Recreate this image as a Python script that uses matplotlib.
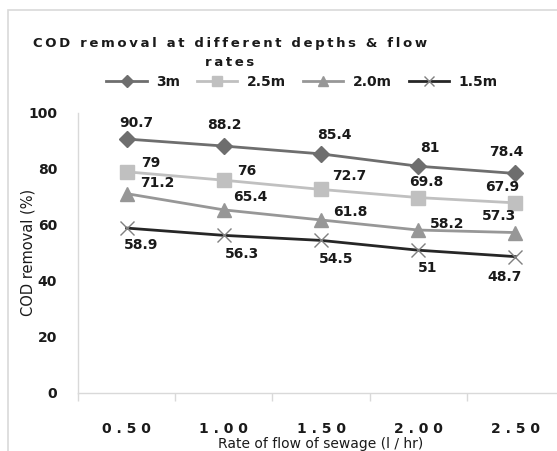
import matplotlib
matplotlib.use("Agg")
import matplotlib.pyplot as plt
from matplotlib.patches import Rectangle

categories = ["0.50", "1.00", "1.50", "2.00", "2.50"]
series_names = ["3m", "2.5m", "2.0m", "1.5m"]
v_3m = [90.7, 88.2, 85.4, 81, 78.4]
v_25m = [79, 76, 72.7, 69.8, 67.9]
v_20m = [71.2, 65.4, 61.8, 58.2, 57.3]
v_15m = [58.9, 56.3, 54.5, 51, 48.7]
yticks = [0, 20, 40, 60, 80, 100]
title_lines = ["COD removal at different depths & flow", "rates"]
xlabel = "Rate of flow of sewage (l / hr)"
ylabel = "COD removal (%)"

FONT = "DejaVu Sans"
TXT = "#1a1a1a"

def spaced(s, sep=" "):
    return sep.join(list(s))

fig = plt.figure(figsize=(5.57, 4.51), dpi=100)
W, H = 557, 451
ax = fig.add_axes([78 / W, (H - 393) / H, 486 / W, 280 / H])

x = list(range(len(categories)))
styles = [
    dict(color="#6e6e6e", marker="D", ms=8.5, mfc="#6e6e6e", mec="#6e6e6e"),
    dict(color="#c0c0c0", marker="s", ms=10, mfc="#c0c0c0", mec="#c0c0c0"),
    dict(color="#979797", marker="^", ms=10, mfc="#979797", mec="#979797"),
    dict(color="#262626", marker="x", ms=10, mfc="#808080", mec="#808080", mew=1.0),
]
data = [v_3m, v_25m, v_20m, v_15m]
offsets = [
    [(10, -16), (1, -21), (13, -19), (12, -18), (-9, -21)],
    [(24, -9), (23, -9), (28, -13), (8, -16), (-13, -16)],
    [(31, -11), (27, -13), (29, -8), (29, -6), (-16, -17)],
    [(14, 17), (18, 19), (15, 19), (9, 18), (-11, 20)],
]
lines = []
for name, vals, st, offs in zip(series_names, data, styles, offsets):
    ln, = ax.plot(x, vals, lw=2.0, label=name, **st)
    lines.append(ln)
    for xi, v, (dx, dy) in zip(x, vals, offs):
        ax.annotate(f"{v:g}", (xi, v), xytext=(dx, -dy), textcoords="offset pixels",
                    ha="center", va="center", fontsize=10, fontweight="bold",
                    family=FONT, color=TXT)

ax.set_xlim(-0.5, len(categories) - 0.5)
ax.set_ylim(0, 100)
ax.set_yticks(yticks)
ax.set_yticklabels([str(t) for t in yticks], fontsize=10, fontweight="bold", family=FONT, color=TXT)
ax.tick_params(axis="y", length=0, pad=15)
ax.set_xticks(x)
ax.set_xticklabels([spaced(c) for c in categories], fontsize=10, fontweight="bold", family=FONT, color=TXT)
ax.set_xticks([i - 0.5 for i in range(len(categories) + 1)], minor=True)
ax.tick_params(axis="x", which="major", length=0, pad=21)
ax.tick_params(axis="x", which="minor", length=6, color="#d9d9d9", width=1)
for s in ["top", "right"]:
    ax.spines[s].set_visible(False)
for s in ["left", "bottom"]:
    ax.spines[s].set_color("#d9d9d9")
    ax.spines[s].set_linewidth(1)

fig.text(28 / W, 1 - 252 / H, ylabel, rotation=90, ha="center", va="center",
         fontsize=10.5, family=FONT, color=TXT)
fig.text(321 / W, 1 - 444 / H, xlabel, ha="center", va="center",
         fontsize=10, family=FONT, color=TXT)
fig.text(230 / W, 1 - 44 / H, spaced(title_lines[0], "\u2009"), ha="center", va="center",
         fontsize=9.5, fontweight="bold", family=FONT, color=TXT)
fig.text(230 / W, 1 - 63 / H, spaced(title_lines[1], "\u2009"), ha="center", va="center",
         fontsize=9.5, fontweight="bold", family=FONT, color=TXT)

leg = fig.legend(handles=lines, labels=series_names, loc="center", ncol=4,
                 bbox_to_anchor=(302 / W, 1 - 82 / H), frameon=False,
                 prop=dict(family=FONT, weight="bold", size=10),
                 handlelength=2.9, columnspacing=1.2, handletextpad=0.7, markerscale=0.7)
for t in leg.get_texts():
    t.set_color(TXT)

fig.patches.append(Rectangle((8 / W, -0.05), 1.2, (H - 10) / H + 0.05,
                             transform=fig.transFigure, fill=False,
                             edgecolor="#d9d9d9", lw=1.2))
fig.savefig("out.png", dpi=100)
